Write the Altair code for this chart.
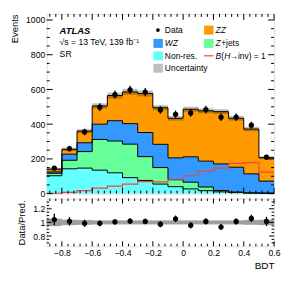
import altair as alt
import pandas as pd

# ---------------- data ----------------
bin_lo = [-0.9, -0.8, -0.7, -0.6, -0.5, -0.4, -0.3, -0.2, -0.1, 0.0, 0.1, 0.2, 0.3, 0.4, 0.5]
bin_hi = [-0.8, -0.7, -0.6, -0.5, -0.4, -0.3, -0.2, -0.1, 0.0, 0.1, 0.2, 0.3, 0.4, 0.5, 0.6]
nonres = [103, 143, 147, 135, 120, 92, 76, 55, 40, 27, 17, 10, 6, 3, 2]
zjets = [14, 49, 95, 177, 183, 193, 137, 95, 40, 39, 21, 8, 3, 1, 1]
wz = [8, 35, 51, 88, 117, 118, 139, 134, 126, 146, 149, 153, 143, 110, 69]
zz = [16, 28, 67, 105, 145, 183, 225, 211, 228, 274, 290, 301, 282, 258, 135]
signal = [2, 7, 17, 32, 43, 55, 69, 68, 80, 103, 128, 147, 174, 178, 124]
data = [147, 259, 355, 498, 570, 598, 585, 482, 457, 465, 484, 440, 440, 394, 210]
data_err = [12, 16, 19, 22, 24, 24, 24, 22, 21, 22, 22, 21, 21, 20, 14]
rel_unc = [0.055, 0.04, 0.035, 0.03, 0.03, 0.03, 0.03, 0.03, 0.03, 0.03, 0.03, 0.03, 0.03, 0.035, 0.04]

x_major = [-0.8, -0.6, -0.4, -0.2, 0, 0.2, 0.4, 0.6]
y_major = [0, 200, 400, 600, 800, 1000]
r_major = [0.8, 1.0, 1.2]

comp_names = ["Non-res.", "Z+jets", "WZ", "ZZ"]
comp_colors = ["#66ffff", "#66ff99", "#3399ff", "#ff9a00"]

W, H1, H2 = 229, 181, 48
XDOM = [-0.9, 0.6]
YDOM = [0, 1035]
RDOM = [0.65, 1.35]

# ---------------- derived tables ----------------
edges = bin_lo + [bin_hi[-1]]
comps = [nonres, zjets, wz, zz]
rows, lrows = [], []
cum = [0.0] * len(bin_lo)
for name, vals in zip(comp_names, comps):
    lo = cum[:]
    hi = [a + b for a, b in zip(cum, vals)]
    for i, e in enumerate(edges):
        j = min(i, len(bin_lo) - 1)
        rows.append({"x": e, "lo": lo[j], "hi": hi[j], "comp": name})
        lrows.append({"x": e, "v": hi[j], "lvl": name})
    cum = hi
total = cum
area_df = pd.DataFrame(rows)
line_df = pd.DataFrame(lrows)
sig_df = pd.DataFrame({"x": edges, "v": signal + [signal[-1]]})

bins_df = pd.DataFrame({
    "lo": bin_lo, "hi": bin_hi,
    "c": [(a + b) / 2 for a, b in zip(bin_lo, bin_hi)],
    "data": data, "err": data_err, "tot": total, "u": rel_unc,
})
bins_df["ulo"] = bins_df.tot * (1 - bins_df.u)
bins_df["uhi"] = bins_df.tot * (1 + bins_df.u)
bins_df["dlo"] = bins_df.data - bins_df.err
bins_df["dhi"] = bins_df.data + bins_df.err
bins_df["r"] = bins_df.data / bins_df.tot
bins_df["rlo"] = (bins_df.data - bins_df.err) / bins_df.tot
bins_df["rhi"] = (bins_df.data + bins_df.err) / bins_df.tot
bins_df["rulo"] = 1 - bins_df.u
bins_df["ruhi"] = 1 + bins_df.u

x_minor = [round(-0.88 + 0.04 * i, 2) for i in range(37)]
x_minor = [v for v in x_minor if all(abs(v - m) > 1e-6 for m in x_major)]
y_minor = [50 * i for i in range(1, 21) if (50 * i) % 200 != 0]
r_minor = [round(0.70 + 0.05 * i, 2) for i in range(13)]
r_minor = [v for v in r_minor if all(abs(v - m) > 1e-6 for m in r_major)]

FONT = "Liberation Sans"
xs = alt.Scale(domain=XDOM, nice=False, zero=False)
ys = alt.Scale(domain=YDOM, nice=False, zero=False)
rs = alt.Scale(domain=RDOM, nice=False, zero=False)

common = dict(titleFontWeight="normal", titleFont=FONT, labelFont=FONT,
              labelFontSize=8.7, titleColor="black", labelColor="black",
              grid=False, domain=False, ticks=False, labelFlush=False)
y_axis = alt.Axis(values=y_major, title="Events", titleAnchor="end", titlePadding=6,
                  labelPadding=2, format="d", titleFontSize=9.5, **common)
r_axis = alt.Axis(values=r_major, title="Data/Pred.", titlePadding=6, labelPadding=2,
                  titleFontSize=9.5,
                  labelExpr="datum.value == 1 ? '1' : format(datum.value, '.1f')", **common)
rx_axis = alt.Axis(values=x_major, title="BDT", titleAnchor="end", labelPadding=2,
                   titlePadding=4, titleFontSize=10,
                   labelExpr="datum.value == 0 ? '0' : format(datum.value, '.1f')", **common)


def X(field, axis=None):
    if axis is None:
        return alt.X(field, type="quantitative", scale=xs, axis=None)
    return alt.X(field, type="quantitative", scale=xs, axis=axis)


def ticks(xvals_major, xvals_minor, yvals_major, yvals_minor, yscale, yaxis, xaxis, h, Lmaj, Lmin):
    layers = []
    for vals, L in [(xvals_major, Lmaj), (xvals_minor, Lmin)]:
        b = alt.Chart(pd.DataFrame({"v": vals}))
        layers.append(b.mark_rule(color="black", strokeWidth=1).encode(
            x=X("v", xaxis), y=alt.value(h), y2=alt.value(h - L)))
        layers.append(b.mark_rule(color="black", strokeWidth=1).encode(
            x=X("v", xaxis), y=alt.value(0), y2=alt.value(L)))
    for vals, L in [(yvals_major, Lmaj), (yvals_minor, Lmin)]:
        b = alt.Chart(pd.DataFrame({"v": vals}))
        layers.append(b.mark_rule(color="black", strokeWidth=1).encode(
            y=alt.Y("v:Q", scale=yscale, axis=yaxis), x=alt.value(0), x2=alt.value(L)))
        layers.append(b.mark_rule(color="black", strokeWidth=1).encode(
            y=alt.Y("v:Q", scale=yscale, axis=yaxis), x=alt.value(W), x2=alt.value(W - L)))
    return layers


# ---------------- main panel ----------------
areas = alt.Chart(area_df).mark_area(interpolate="step-after").encode(
    x=X("x"),
    y=alt.Y("lo:Q", scale=ys, axis=y_axis),
    y2="hi:Q",
    color=alt.Color("comp:N", scale=alt.Scale(domain=comp_names, range=comp_colors), legend=None),
)
outlines = alt.Chart(line_df).mark_line(interpolate="step-after", color="black", strokeWidth=1).encode(
    x=X("x"), y=alt.Y("v:Q", scale=ys, axis=y_axis), detail="lvl:N")
sig = alt.Chart(sig_df).mark_line(interpolate="step-after", color="#f0463c", strokeWidth=1.2).encode(
    x=X("x"), y=alt.Y("v:Q", scale=ys, axis=y_axis))
unc = alt.Chart(bins_df).mark_rect(color="black", opacity=0.25).encode(
    x=X("lo"), x2="hi", y=alt.Y("ulo:Q", scale=ys, axis=y_axis), y2="uhi")
derr = alt.Chart(bins_df).mark_rule(color="black", strokeWidth=1.3).encode(
    x=X("c"), y=alt.Y("dlo:Q", scale=ys, axis=y_axis), y2="dhi")
dpts = alt.Chart(bins_df).mark_circle(color="black", size=28, opacity=1).encode(
    x=X("c"), y=alt.Y("data:Q", scale=ys, axis=y_axis))

one = pd.DataFrame({"a": [0]})


def txt(s, x, y, size=8.5, weight="normal", style="normal"):
    return alt.Chart(one).mark_text(text=s, align="left", baseline="middle", font=FONT,
                                    fontSize=size, fontWeight=weight, fontStyle=style,
                                    color="black").encode(x=alt.value(x), y=alt.value(y))


def box(x0, y0, color, opacity=1.0):
    return alt.Chart(one).mark_rect(color=color, opacity=opacity).encode(
        x=alt.value(x0), x2=alt.value(x0 + 9.5), y=alt.value(y0 - 4.5), y2=alt.value(y0 + 4.5))


lx1, lx2 = 107.5, 158.5
ly = [16.3, 29.7, 42.2, 54.7]
legend = [
    txt("ATLAS", 13, 17, size=9.5, weight="bold", style="italic"),
    txt("\u221as = 13 TeV, 139 fb\u207b\u00b9", 13, 28.7, size=8.7),
    txt("SR", 13, 40.5, size=8.7),
    alt.Chart(one).mark_circle(color="black", size=14, opacity=1).encode(
        x=alt.value(lx1 + 4.5), y=alt.value(ly[0])),
    txt("Data", lx1 + 11.5, ly[0]),
    box(lx1, ly[1], comp_colors[2]),
    txt("WZ", lx1 + 11.5, ly[1], style="italic"),
    box(lx1, ly[2], comp_colors[0]),
    txt("Non-res.", lx1 + 11.5, ly[2]),
    box(lx1, ly[3], "black", 0.25),
    txt("Uncertainty", lx1 + 11.5, ly[3]),
    box(lx2, ly[0], comp_colors[3]),
    txt("ZZ", lx2 + 11.5, ly[0], style="italic"),
    box(lx2, ly[1], comp_colors[1]),
    txt("Z", lx2 + 11.5, ly[1], style="italic"),
    txt("+jets", lx2 + 17.2, ly[1]),
    alt.Chart(one).mark_rule(color="#f0463c", strokeWidth=1.2).encode(
        x=alt.value(lx2), x2=alt.value(lx2 + 9.5), y=alt.value(ly[2])),
    txt("B", lx2 + 11.5, ly[2], style="italic"),
    txt("(", lx2 + 17.3, ly[2]),
    txt("H", lx2 + 20.2, ly[2], style="italic"),
    txt("\u2192inv) = 1", lx2 + 25.6, ly[2]),
]

main_ticks = ticks(x_major, x_minor, y_major, y_minor, ys, y_axis, None, H1, 6, 3)
main = alt.layer(areas, outlines, sig, unc, derr, dpts, *main_ticks, *legend).properties(
    width=W, height=H1)

# ---------------- ratio panel ----------------
runc = alt.Chart(bins_df).mark_rect(color="black", opacity=0.38).encode(
    x=X("lo", rx_axis), x2="hi", y=alt.Y("rulo:Q", scale=rs, axis=r_axis), y2="ruhi")
rerr = alt.Chart(bins_df).mark_rule(color="black", strokeWidth=1.3).encode(
    x=X("c", rx_axis), y=alt.Y("rlo:Q", scale=rs, axis=r_axis), y2="rhi")
rpts = alt.Chart(bins_df).mark_circle(color="black", size=28, opacity=1).encode(
    x=X("c", rx_axis), y=alt.Y("r:Q", scale=rs, axis=r_axis))
ratio_ticks = ticks(x_major, x_minor, r_major, r_minor, rs, r_axis, rx_axis, H2, 5, 2.5)
ratio = alt.layer(runc, rerr, rpts, *ratio_ticks).properties(width=W, height=H2)

chart = alt.vconcat(main, ratio, spacing=5, bounds="flush").properties(
    padding={"left": 1, "top": 4, "right": 2, "bottom": 2}
).configure_view(stroke="black", strokeWidth=1).configure_axis(
    grid=False, domain=False, ticks=False, labelFont=FONT, titleFont=FONT,
    labelFontSize=8.7, titleFontSize=9.5, titleFontWeight="normal",
    labelColor="black", titleColor="black",
).configure(background="white")

chart.save("out.html", embed_options={"renderer": "svg", "actions": False})
